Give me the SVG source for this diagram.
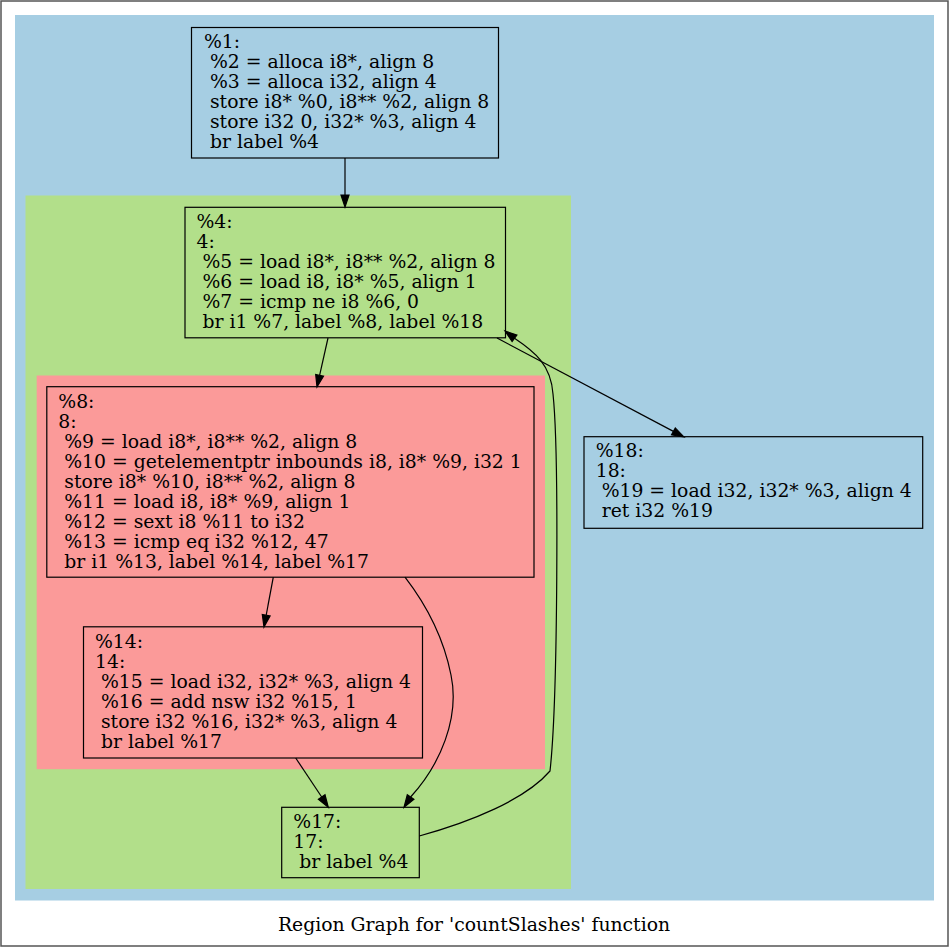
<svg xmlns="http://www.w3.org/2000/svg" width="949" height="947" viewBox="0 0 949 947">
<style>
text{font-family:"DejaVu Serif",serif;font-size:18.8px;fill:#000;white-space:pre}
.node rect{stroke:#000;stroke-width:1.2}
.edge path{fill:none;stroke:#000;stroke-width:1.2}
.edge polygon{fill:#000;stroke:#000;stroke-width:1.2}
</style>
<rect x="1" y="1" width="947" height="945" fill="#fff" stroke="#555" stroke-width="1.5"/>
<g id="clusters">
<rect x="15" y="15" width="919" height="885.5" fill="#a6cee3"/>
<rect x="25.5" y="195.5" width="545.5" height="693.5" fill="#b2df8a"/>
<rect x="36.7" y="375.5" width="508.3" height="393.7" fill="#fb9a99"/>
</g>
<g id="node1" class="node">
<rect x="191.5" y="27.5" width="307" height="130.5" fill="#a6cee3"/>
<text xml:space="preserve"><tspan x="204" y="47.7">%1:</tspan><tspan x="204" y="67.7"> %2 = alloca i8*, align 8</tspan><tspan x="204" y="87.7"> %3 = alloca i32, align 4</tspan><tspan x="204" y="107.7"> store i8* %0, i8** %2, align 8</tspan><tspan x="204" y="127.7"> store i32 0, i32* %3, align 4</tspan><tspan x="204" y="147.7"> br label %4</tspan></text>
</g>
<g id="node4" class="node">
<rect x="185" y="207.3" width="320.5" height="130.5" fill="#b2df8a"/>
<text xml:space="preserve"><tspan x="196.5" y="227.7">%4:</tspan><tspan x="196.5" y="247.7">4:</tspan><tspan x="196.5" y="267.7"> %5 = load i8*, i8** %2, align 8</tspan><tspan x="196.5" y="287.7"> %6 = load i8, i8* %5, align 1</tspan><tspan x="196.5" y="307.7"> %7 = icmp ne i8 %6, 0</tspan><tspan x="196.5" y="327.7"> br i1 %7, label %8, label %18</tspan></text>
</g>
<g id="node8" class="node">
<rect x="46.8" y="386.7" width="487.2" height="190.5" fill="#fb9a99"/>
<text xml:space="preserve"><tspan x="58.3" y="407.9">%8:</tspan><tspan x="58.3" y="427.9">8:</tspan><tspan x="58.3" y="447.9"> %9 = load i8*, i8** %2, align 8</tspan><tspan x="58.3" y="467.9"> %10 = getelementptr inbounds i8, i8* %9, i32 1</tspan><tspan x="58.3" y="487.9"> store i8* %10, i8** %2, align 8</tspan><tspan x="58.3" y="507.9"> %11 = load i8, i8* %9, align 1</tspan><tspan x="58.3" y="527.9"> %12 = sext i8 %11 to i32</tspan><tspan x="58.3" y="547.9"> %13 = icmp eq i32 %12, 47</tspan><tspan x="58.3" y="567.9"> br i1 %13, label %14, label %17</tspan></text>
</g>
<g id="node14" class="node">
<rect x="83.5" y="626.8" width="339" height="131.2" fill="#fb9a99"/>
<text xml:space="preserve"><tspan x="95" y="647.9">%14:</tspan><tspan x="95" y="667.9">14:</tspan><tspan x="95" y="687.9"> %15 = load i32, i32* %3, align 4</tspan><tspan x="95" y="707.9"> %16 = add nsw i32 %15, 1</tspan><tspan x="95" y="727.9"> store i32 %16, i32* %3, align 4</tspan><tspan x="95" y="747.9"> br label %17</tspan></text>
</g>
<g id="node17" class="node">
<rect x="281.7" y="807.3" width="137.6" height="70.4" fill="#b2df8a"/>
<text xml:space="preserve"><tspan x="293.3" y="827.7">%17:</tspan><tspan x="293.3" y="847.7">17:</tspan><tspan x="293.3" y="867.7"> br label %4</tspan></text>
</g>
<g id="node18" class="node">
<rect x="584" y="436.7" width="338.7" height="91.6" fill="#a6cee3"/>
<text xml:space="preserve"><tspan x="595.7" y="457.3">%18:</tspan><tspan x="595.7" y="477.3">18:</tspan><tspan x="595.7" y="497.3"> %19 = load i32, i32* %3, align 4</tspan><tspan x="595.7" y="517.3"> ret i32 %19</tspan></text>
</g>
<g id="edges" class="edge">
<path d="M345,158 L345,195"/>
<polygon points="345,207 341,195 349,195"/>
<path d="M328,338 L319.6,375.3"/>
<polygon points="317,387 323.5,376.2 315.7,374.4"/>
<path d="M497,338 L673.4,431.4"/>
<polygon points="684,437 671.5,434.9 675.3,427.9"/>
<path d="M273.3,577.2 L266.2,615.2"/>
<polygon points="264,627 270.1,615.9 262.3,614.5"/>
<path d="M295.7,758 L321.7,797"/>
<polygon points="328.3,807.3 318.4,799.2 325,794.8"/>
<path d="M405,577.2 C428,607 444,640 451,675 C460,718 440,765 410.6,797"/>
<polygon points="404,807.3 413.9,799.2 407.3,794.8"/>
<path d="M419.3,836 C470,822 525,800 550,771 C558,700 559,450 553,394 C551,365 535,352 514.5,338.3"/>
<polygon points="505,331 516.9,335.1 512.1,341.5"/>
</g>
<text x="474" y="930.7" text-anchor="middle">Region Graph for 'countSlashes' function</text>
</svg>
